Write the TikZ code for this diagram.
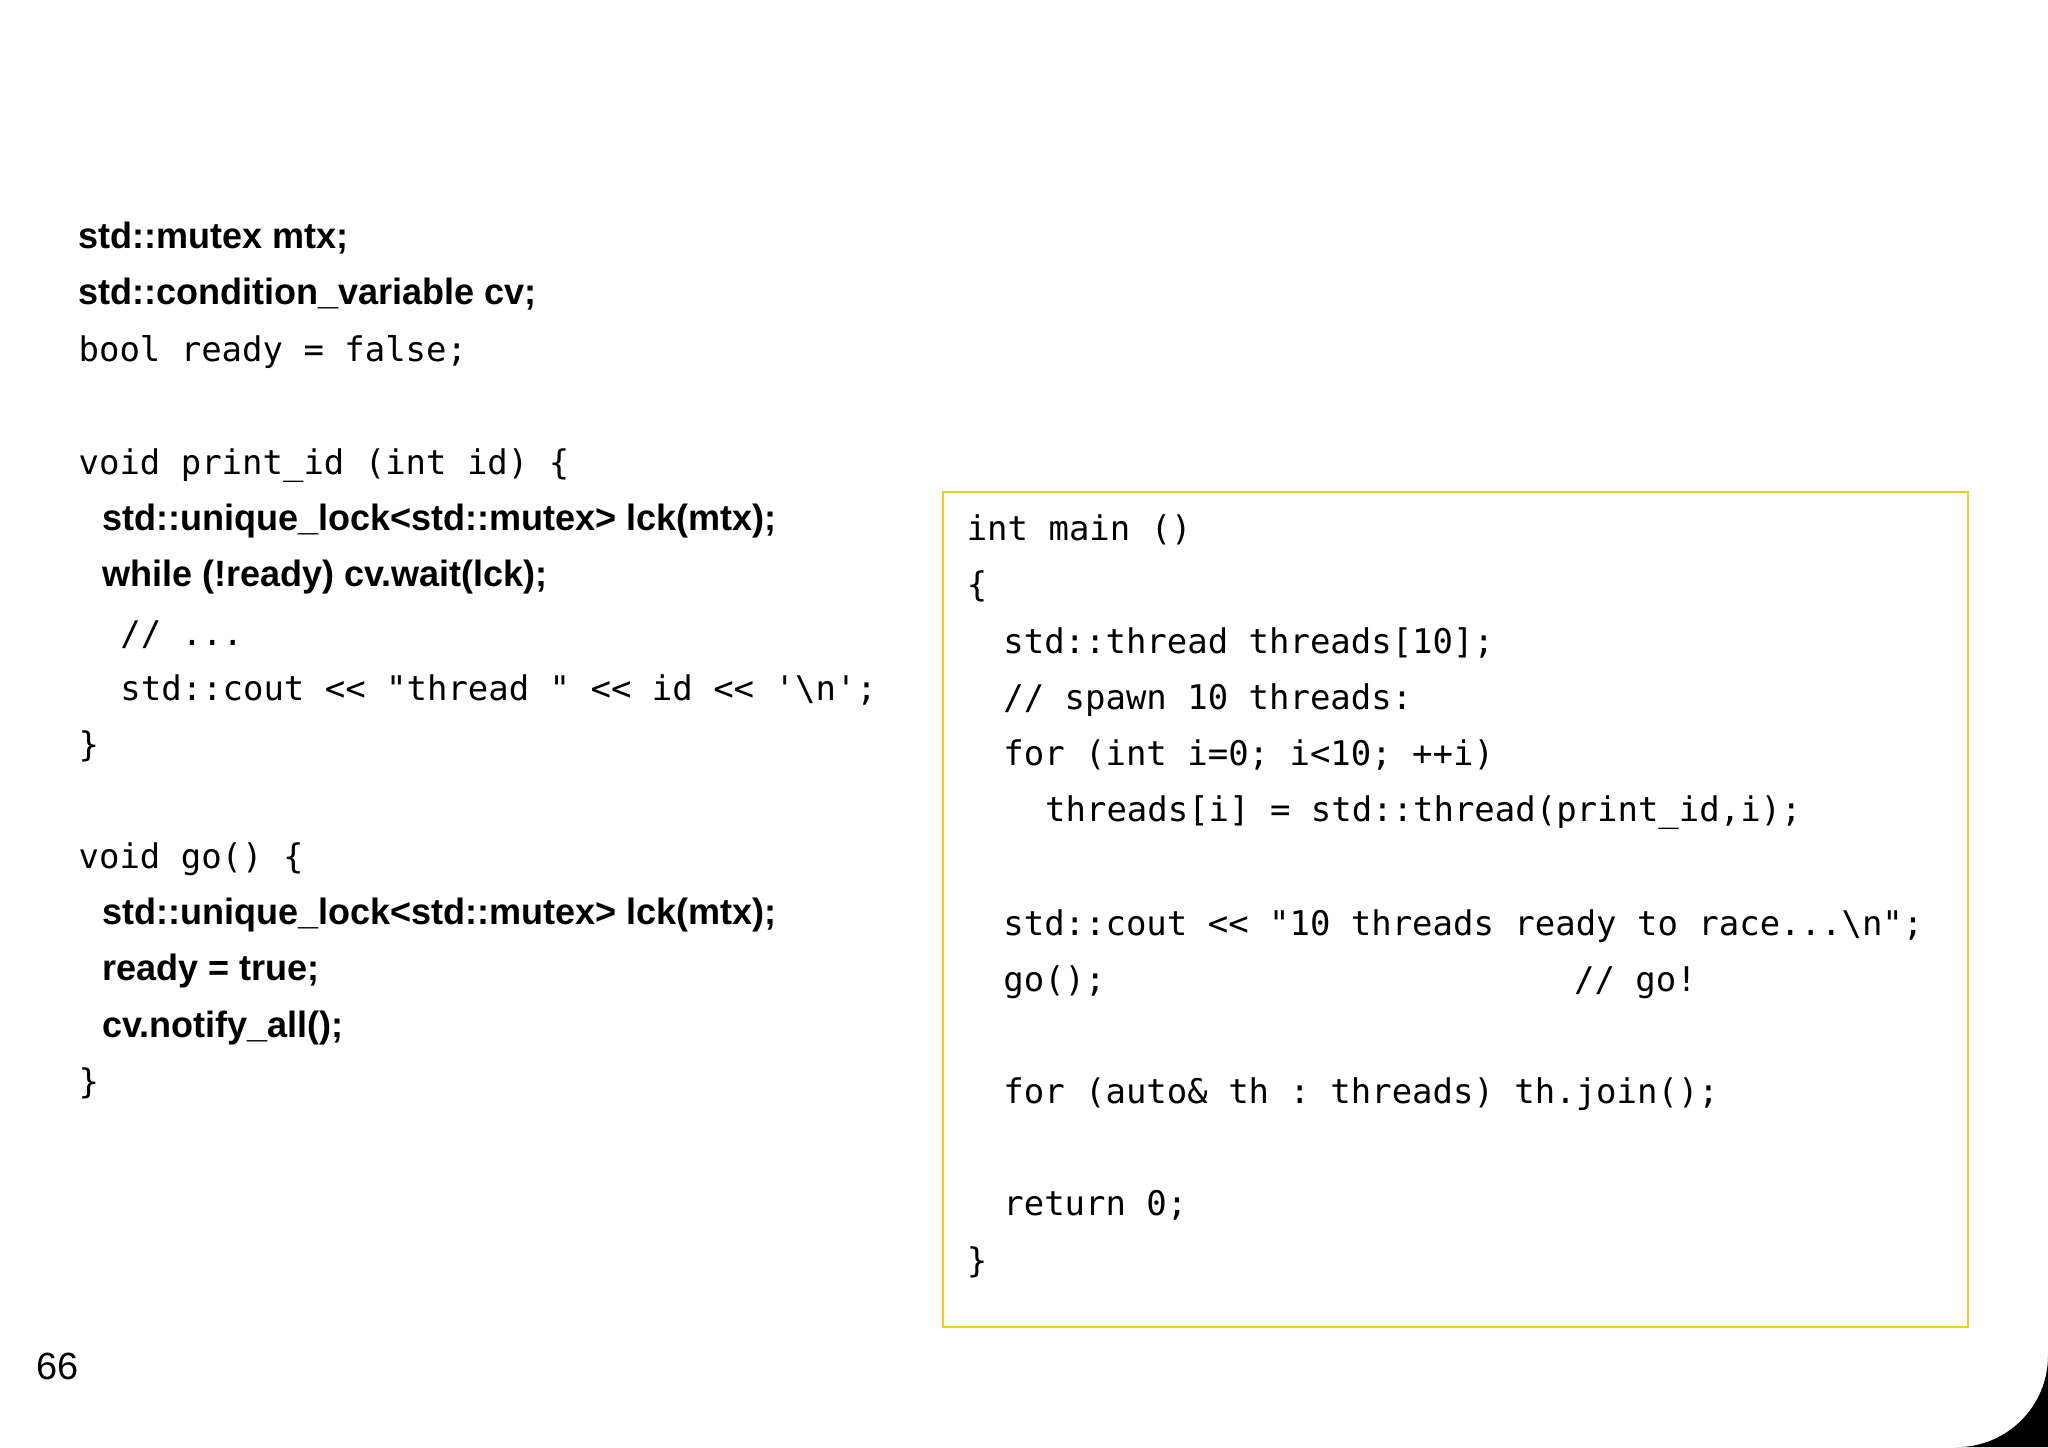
\documentclass[tikz,border=0pt]{standalone}
\usepackage{fontspec}
\setmainfont{Liberation Sans}[FakeStretch=0.985]
\newfontfamily\plainsans{Liberation Sans}
\setmonofont{DejaVu Sans Mono}
\definecolor{boxy}{RGB}{240,204,40}
\begin{document}
\begin{tikzpicture}[x=1pt,y=1pt,
  cl/.style={anchor=base west,inner sep=0pt,font=\fontsize{26}{30}\selectfont\ttfamily},
  bl/.style={anchor=base west,inner sep=0pt,font=\fontsize{28}{30}\selectfont\bfseries}]
\useasboundingbox (0,0) rectangle (1568,1108);
\fill[black] (1498,0) arc(270:360:70) -- (1568,0) -- cycle;
\node[draw=boxy,line width=1.5pt,minimum width=785pt,minimum height=639pt,anchor=north west,inner sep=0pt] (box) at (721,732) {};
\node[bl] (l1) at (60,{1108-181-9}) {std::mutex mtx;};
\node[bl] (l2) at (60,{1108-224-9}) {std::condition\_variable cv;};
\node[cl] (l3) at (60,{1108-268-9}) {bool ready = false;};
\node[cl] (l4) at (60,{1108-354-9}) {void print\_id (int id) \{};
\node[bl] (l5) at (78,{1108-397-9}) {std::unique\_lock<std::mutex> lck(mtx);};
\node[bl] (l6) at (78,{1108-440-9}) {while (!ready) cv.wait(lck);};
\node[cl] (l7) at (92,{1108-485-9}) {// ...};
\node[cl] (l8) at (92,{1108-527-9}) {std::cout << "thread " << id << '\textbackslash n';};
\node[cl] (l9) at (60,{1108-570-9}) {\}};
\node[cl] (l10) at (60,{1108-656-9}) {void go() \{};
\node[bl] (l11) at (78,{1108-699-9}) {std::unique\_lock<std::mutex> lck(mtx);};
\node[bl] (l12) at (78,{1108-742-9}) {ready = true;};
\node[bl] (l13) at (78,{1108-785-9}) {cv.notify\_all();};
\node[cl] (l14) at (60,{1108-828-9}) {\}};
\node[cl] (r1) at (740,{1108-405-9}) {int main ()};
\node[cl] (r2) at (740,{1108-448-9}) {\{};
\node[cl] (r3) at (768,{1108-491-9}) {std::thread threads[10];};
\node[cl] (r4) at (768,{1108-534-9}) {// spawn 10 threads:};
\node[cl] (r5) at (768,{1108-577-9}) {for (int i=0; i<10; ++i)};
\node[cl] (r6) at (800,{1108-620-9}) {threads[i] = std::thread(print\_id,i);};
\node[cl] (r7) at (768,{1108-707-9}) {std::cout << "10 threads ready to race...\textbackslash n";};
\node[cl] (r8) at (768,{1108-750-9}) {go();};
\node[cl] (r8b) at (1205,{1108-750-9}) {// go!};
\node[cl] (r9) at (768,{1108-836-9}) {for (auto\& th : threads) th.join();};
\node[cl] (r10) at (768,{1108-922-9}) {return 0;};
\node[cl] (r11) at (740,{1108-965-9}) {\}};
\node[anchor=base west,inner sep=0pt,font=\fontsize{29}{30}\selectfont\plainsans] (pg) at (28,{1108-1046-10}) {66};
\end{tikzpicture}
\end{document}
